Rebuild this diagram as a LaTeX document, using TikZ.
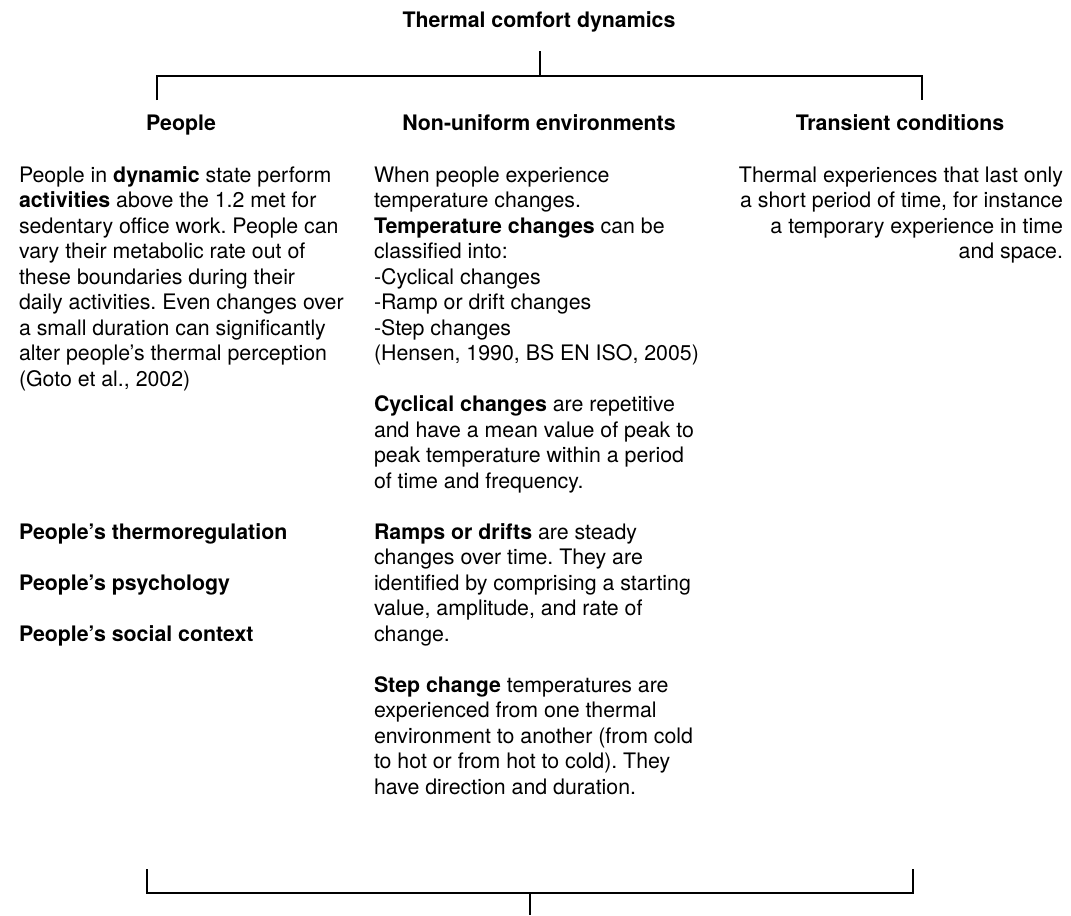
\documentclass[tikz,border=0pt]{standalone}
\usepackage{fontspec}
\setmainfont{TeX Gyre Heros}
\newcommand{\bodysize}{\fontsize{16pt}{19.125pt}\selectfont\frenchspacing}
\tikzset{
  body/.style={inner sep=0pt, outer sep=0pt, font=\bodysize},
  headtext/.style={inner sep=0pt, outer sep=0pt, font=\bodysize\bfseries, anchor=base},
  bracket/.style={line width=1.5pt, line join=miter},
}
\begin{document}
\begin{tikzpicture}[x=0.75pt, y=-0.75pt]
  \useasboundingbox (0,0) rectangle (1071,915);

  % title and column headings
  \node[headtext] (title) at (539,27) {Thermal comfort dynamics};
  \node[headtext] (hpeople) at (181,130) {People};
  \node[headtext] (henv) at (539,130) {Non-uniform environments};
  \node[headtext] (htrans) at (900,130) {Transient conditions};

  % left column (placed by the baseline of its last line)
  \node[body, align=left, anchor=base west] (people) at (19,386) {%
    People in \textbf{dynamic} state perform\\
    \textbf{activities} above the 1.2 met for\\
    sedentary office work. People can\\
    vary their metabolic rate out of\\
    these boundaries during their\\
    daily activities. Even changes over\\
    a small duration can significantly\\
    alter people’s thermal perception\\
    (Goto et al., 2002)};
  \node[body, font=\bodysize\bfseries, anchor=base west] (thermo) at (19,539) {People’s thermoregulation};
  \node[body, font=\bodysize\bfseries, anchor=base west] (psych) at (19,590) {People’s psychology};
  \node[body, font=\bodysize\bfseries, anchor=base west] (social) at (19,641) {People’s social context};

  % middle column
  \node[body, align=left, anchor=base west] (env) at (374,794) {%
    When people experience\\
    temperature changes.\\
    \textbf{Temperature changes} can be\\
    classified into:\\
    -Cyclical changes\\
    -Ramp or drift changes\\
    -Step changes\\
    (Hensen, 1990, BS EN ISO, 2005)\\[19.125pt]
    \textbf{Cyclical changes} are repetitive\\
    and have a mean value of peak to\\
    peak temperature within a period\\
    of time and frequency.\\[19.125pt]
    \textbf{Ramps or drifts} are steady\\
    changes over time. They are\\
    identified by comprising a starting\\
    value, amplitude, and rate of\\
    change.\\[19.125pt]
    \textbf{Step change} temperatures are\\
    experienced from one thermal\\
    environment to another (from cold\\
    to hot or from hot to cold). They\\
    have direction and duration.};

  % right column
  \node[body, align=right, anchor=base east] (trans) at (1063,258.5) {%
    Thermal experiences that last only\\
    a short period of time, for instance\\
    a temporary experience in time\\
    and space.};

  % upper bracket
  \coordinate (tstem) at (540,51);
  \coordinate (tjoin) at (540,76);
  \coordinate (tleft) at (157,100);
  \coordinate (tright) at (922,100);
  \draw[bracket] (tleft) |- (tjoin) -| (tright);
  \draw[bracket] (tstem) -- (tjoin);

  % lower bracket
  \coordinate (bleft) at (147,869);
  \coordinate (bjoin) at (530,893);
  \coordinate (bright) at (913,869);
  \coordinate (bstem) at (530,915);
  \draw[bracket] (bleft) |- (bjoin) -| (bright);
  \draw[bracket] (bjoin) -- (bstem);
\end{tikzpicture}
\end{document}
